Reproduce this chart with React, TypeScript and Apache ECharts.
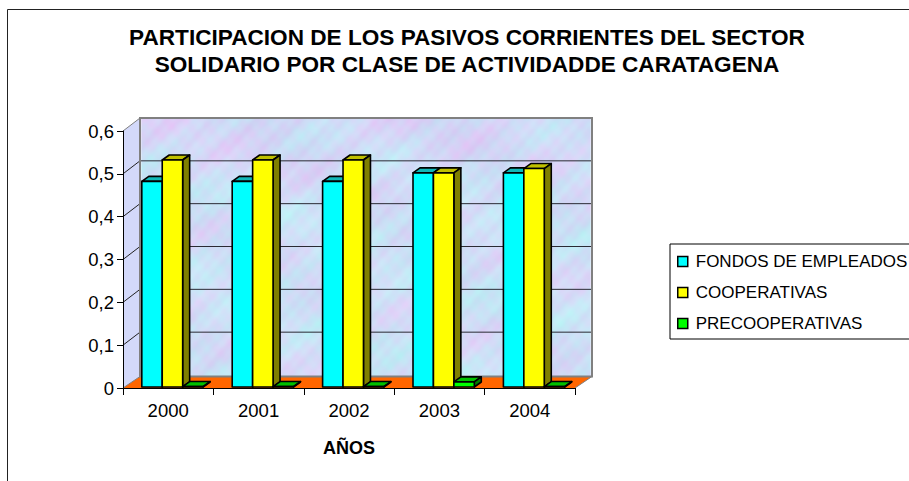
import React, { useEffect, useRef } from "react";
import * as echarts from "echarts";

const years = ["2000", "2001", "2002", "2003", "2004"];
const fondos = [0.48, 0.48, 0.48, 0.5, 0.5];
const cooperativas = [0.53, 0.53, 0.53, 0.5, 0.51];
const precooperativas = [0.001, 0.001, 0.001, 0.012, 0.001];
const yTicks = [0, 0.1, 0.2, 0.3, 0.4, 0.5, 0.6];
const titleText =
  "PARTICIPACION DE LOS PASIVOS CORRIENTES DEL SECTOR\nSOLIDARIO POR CLASE DE ACTIVIDADDE CARATAGENA";
const FONT = '"Liberation Sans", Arial, sans-serif';

const DEPTH_X = 17;
const DEPTH_Y = 11.5;

// wall texture: a soft marbled fill, decoration only
function wallTexture(): string {
  const w = 226, h = 130;
  const small = document.createElement("canvas");
  small.width = w; small.height = h;
  const c = small.getContext("2d")!;
  for (let y = 0; y < h; y++) {
    for (let x = 0; x < w; x++) {
      const a = Math.sin(x * 0.11 + y * 0.19) + Math.sin(x * 0.05 - y * 0.13 + 1.3) + 0.8 * Math.sin(x * 0.31 + y * 0.37 + 2.1) + 0.6 * Math.sin(x * 0.67 - y * 0.53) + 0.4 * Math.sin(x * 1.13 + y * 0.97);
      const b = Math.sin(x * 0.07 - y * 0.09 + 0.7) + 0.8 * Math.sin(x * 0.29 + y * 0.41) + 0.6 * Math.sin(x * 0.83 + y * 0.71 + 1);
      const bias = y < 50 ? 1 - y / 50 : 0;
      const r = 207 + a * 5 + b * 2.5 + bias * 4;
      const g = 224 - a * 5.5 + b * 2 - bias * 8;
      const bl = 247 + b * 1.5;
      c.fillStyle = `rgb(${r | 0},${g | 0},${bl | 0})`;
      c.fillRect(x, y, 1, 1);
    }
  }
  const big = document.createElement("canvas");
  big.width = 452; big.height = 260;
  const d = big.getContext("2d")!;
  d.imageSmoothingEnabled = true;
  d.drawImage(small, 0, 0, 452, 260);
  return big.toDataURL("image/png");
}

function makeFrameRender(texture: string) {
  return (_p: any, api: any) => {
    const [x0, y0] = api.coord([0, 0]);
    const band = api.size([1, 0])[0];
    const x1 = x0 + band * years.length - band;
    const left = x0 - band / 2;
    const right = x1 + band / 2;
    const top = api.coord([0, 0.6])[1];
    const wallTop = top - DEPTH_Y - 1.5;
    const wallBottom = y0 - DEPTH_Y;
    const children: any[] = [
      { type: "polygon", shape: { points: [[left, y0], [left, top], [left + DEPTH_X, wallTop], [left + DEPTH_X, wallBottom]] }, style: { fill: "#D3D9FA", stroke: "none" } },
      { type: "image", style: { image: texture, x: left + DEPTH_X, y: wallTop, width: right - left, height: wallBottom - wallTop } },
      { type: "polygon", shape: { points: [[left, y0], [right, y0], [right + DEPTH_X, wallBottom], [left + DEPTH_X, wallBottom]] }, style: { fill: "#FF6600", stroke: "none" } },
    ];
    yTicks.forEach((v) => {
      if (v === 0 || v === 0.6) return;
      const y = api.coord([0, v])[1];
      children.push({ type: "line", shape: { x1: left + DEPTH_X, y1: y - DEPTH_Y - 1.5, x2: right + DEPTH_X, y2: y - DEPTH_Y - 1.5 }, style: { stroke: "#2A2A33", lineWidth: 1 } });
    });
    yTicks.forEach((v) => {
      if (v === 0) return;
      const y = api.coord([0, v])[1];
      children.push({ type: "line", shape: { x1: left, y1: y, x2: left + DEPTH_X, y2: y - DEPTH_Y - 1.5 }, style: { stroke: v === 0.6 ? "#808080" : "#222", lineWidth: 1 } });
    });
    children.push({ type: "rect", shape: { x: left + DEPTH_X, y: wallTop, width: right - left, height: wallBottom - wallTop }, style: { fill: "none", stroke: "#808080", lineWidth: 2 } });
    children.push({ type: "line", shape: { x1: left, y1: y0, x2: left + DEPTH_X, y2: wallBottom }, style: { stroke: "#808080", lineWidth: 1 } });
    children.push({ type: "line", shape: { x1: right, y1: y0, x2: right + DEPTH_X, y2: wallBottom }, style: { stroke: "#808080", lineWidth: 1 } });
    return { type: "group", children };
  };
}

function makeBarRender(slot: number, front: string, topFace: string, side: string) {
  return (_p: any, api: any) => {
    const i = api.value(0);
    const v = api.value(1);
    const band = api.size([1, 0])[0];
    const cx = api.coord([i, 0])[0];
    const y0 = api.coord([i, 0])[1] - 1;
    const yt = api.coord([i, v])[1] - 1;
    const w = band * 0.226;
    const x = cx - band / 2 + band * 0.208 + slot * w;
    const dx = 7, dy = 5;
    const stroke = { stroke: "#000", lineWidth: 1.6, lineJoin: "round" };
    return {
      type: "group",
      children: [
        { type: "polygon", shape: { points: [[x, yt], [x + dx, yt - dy], [x + w + dx, yt - dy], [x + w, yt]] }, style: { fill: topFace, ...stroke } },
        { type: "polygon", shape: { points: [[x + w, yt], [x + w + dx, yt - dy], [x + w + dx, y0 - dy], [x + w, y0]] }, style: { fill: side, ...stroke } },
        { type: "rect", shape: { x, y: yt, width: w, height: y0 - yt }, style: { fill: front, ...stroke } },
      ],
    };
  };
}

export default function App() {
  const ref = useRef<HTMLDivElement>(null);
  useEffect(() => {
    const chart = echarts.init(ref.current!, undefined, { renderer: "svg" });
    const texture = wallTexture();
    const barSeries = (name: string, values: number[], slot: number, front: string, topFace: string, side: string) => ({
      type: "custom",
      name,
      z: 3,
      clip: false,
      itemStyle: { color: front },
      encode: { x: 0, y: 1 },
      data: values.map((v, i) => [i, v]),
      renderItem: makeBarRender(slot, front, topFace, side),
    });
    chart.setOption({
      animation: false,
      backgroundColor: "#fff",
      textStyle: { fontFamily: FONT },
      title: {
        text: titleText,
        left: 462,
        top: 19,
        textAlign: "center",
        textStyle: { fontFamily: FONT, fontWeight: "bold", fontSize: 22.6, lineHeight: 27, color: "#000" },
      },
      legend: {
        orient: "vertical",
        left: 670,
        top: 244,
        icon: "rect",
        itemWidth: 10,
        itemHeight: 10,
        itemGap: 14,
        padding: [9, 10, 7, 7],
        borderColor: "#000",
        borderWidth: 1,
        backgroundColor: "#fff",
        itemStyle: { borderColor: "#000", borderWidth: 1.5 },
        textStyle: { fontFamily: FONT, fontSize: 17, color: "#000", padding: [0, 0, 0, 3] },
        data: ["FONDOS DE EMPLEADOS", "COOPERATIVAS", "PRECOOPERATIVAS"],
      },
      grid: { left: 123, top: 131, width: 452, height: 257, containLabel: false },
      xAxis: {
        type: "category",
        data: years,
        boundaryGap: true,
        name: "AÑOS",
        nameLocation: "middle",
        nameGap: 51,
        nameTextStyle: { fontFamily: FONT, fontWeight: "bold", fontSize: 18, color: "#000" },
        axisLine: { lineStyle: { color: "#000", width: 1 } },
        axisTick: { show: true, length: 7, alignWithLabel: false, lineStyle: { color: "#000" } },
        axisLabel: { fontFamily: FONT, fontSize: 18.5, color: "#000", margin: 13 },
        splitLine: { show: false },
      },
      yAxis: {
        type: "value",
        min: 0,
        max: 0.6,
        interval: 0.1,
        axisLine: { show: true, lineStyle: { color: "#000", width: 1 } },
        axisTick: { show: true, length: 6, lineStyle: { color: "#000" } },
        axisLabel: { fontFamily: FONT, fontSize: 18.5, color: "#000", margin: 9, formatter: (v: number) => String(v).replace(".", ",") },
        splitLine: { show: false },
      },
      graphic: [
        { type: "polyline", silent: true, shape: { points: [[7.5, 481], [7.5, 9.5], [909, 9.5]] }, style: { fill: "none", stroke: "#222", lineWidth: 1 } },
      ],
      series: [
        { type: "custom", name: "frame", z: -1, clip: false, data: [[0, 0]], encode: { x: 0, y: 1 }, renderItem: makeFrameRender(texture), silent: true },
        barSeries("FONDOS DE EMPLEADOS", fondos, 0, "#00FFFF", "#10B8B8", "#008080"),
        barSeries("COOPERATIVAS", cooperativas, 1, "#FFFF00", "#C0C000", "#808000"),
        barSeries("PRECOOPERATIVAS", precooperativas, 2, "#00FF00", "#00C000", "#008000"),
      ],
    });
    return () => chart.dispose();
  }, []);
  return <div ref={ref} style={{ position: "absolute", left: 0, top: 0, width: 909, height: 481 }} />;
}
